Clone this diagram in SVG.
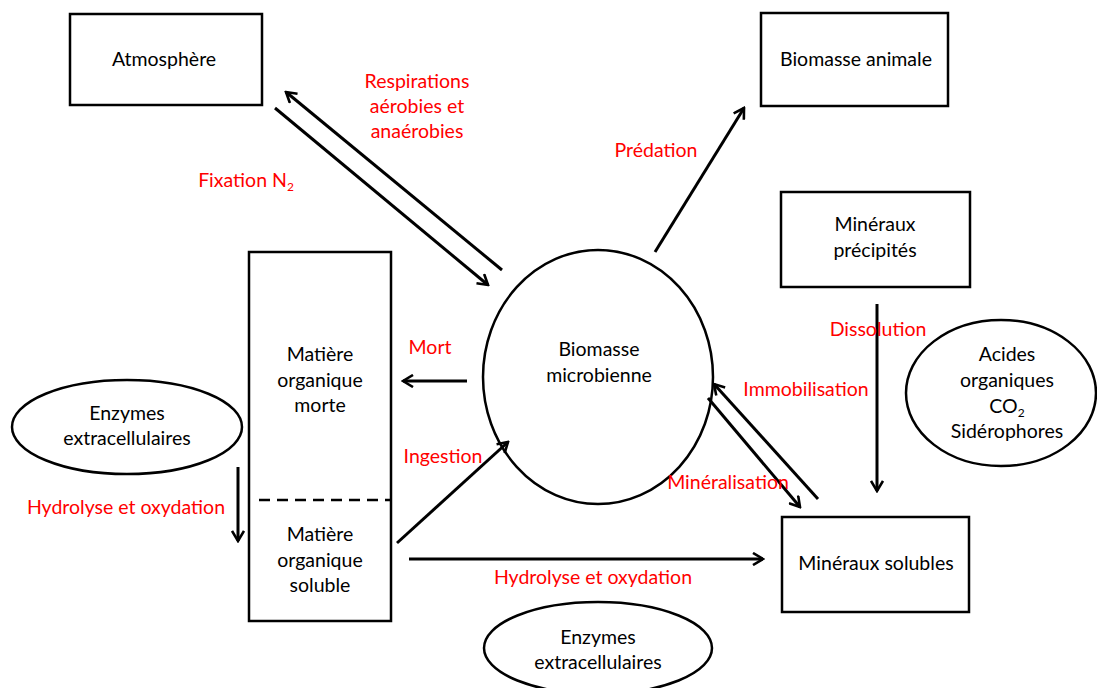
<svg xmlns="http://www.w3.org/2000/svg" width="1097" height="688" viewBox="0 0 1097 688">
<defs>
<style>
.box{fill:#fff;stroke:#000;stroke-width:2.5}
.t{font-family:Lato,"Liberation Sans",sans-serif;font-size:19.5px;fill:#000;text-anchor:middle}
.r{font-family:Lato,"Liberation Sans",sans-serif;font-size:19.5px;fill:#ff0000;text-anchor:middle}
.c{fill:none;stroke:#000;stroke-width:3}
.sub{font-size:12px}
</style>
<marker id="ah" viewBox="0 0 14 14" refX="12" refY="7" markerWidth="14" markerHeight="14" markerUnits="userSpaceOnUse" orient="auto">
<path d="M2,1 L12,7 L2,13" fill="none" stroke="#000" stroke-width="2.6"/>
</marker>
</defs>
<rect width="1097" height="688" fill="#fff"/>

<g id="atmosphere">
<rect class="box" x="70" y="14" width="192" height="91"/>
<text class="t" x="164" y="66">Atmosphère</text>
</g>
<g id="biomasse-animale">
<rect class="box" x="761" y="13" width="187" height="93"/>
<text class="t" x="856" y="66">Biomasse animale</text>
</g>
<g id="mineraux-precipites">
<rect class="box" x="781" y="192" width="189" height="95"/>
<text class="t" x="875" y="231">Minéraux</text>
<text class="t" x="875" y="257">précipités</text>
</g>
<g id="matiere-organique">
<rect class="box" x="249" y="252" width="142" height="369"/>
<line x1="259" y1="500" x2="391" y2="500" stroke="#000" stroke-width="2.5" stroke-dasharray="11,7"/>
<text class="t" x="320" y="361">Matière</text>
<text class="t" x="320" y="387">organique</text>
<text class="t" x="320" y="412">morte</text>
<text class="t" x="320" y="541">Matière</text>
<text class="t" x="320" y="567">organique</text>
<text class="t" x="320" y="592">soluble</text>
</g>
<g id="biomasse-microbienne">
<ellipse class="box" cx="598" cy="377" rx="115" ry="127"/>
<text class="t" x="599" y="356">Biomasse</text>
<text class="t" x="599" y="382">microbienne</text>
</g>
<g id="enzymes-gauche">
<ellipse class="box" cx="127" cy="427" rx="115" ry="47"/>
<text class="t" x="127" y="420">Enzymes</text>
<text class="t" x="127" y="445">extracellulaires</text>
</g>
<g id="acides">
<ellipse class="box" cx="1001" cy="393" rx="95" ry="73"/>
<text class="t" x="1007" y="361">Acides</text>
<text class="t" x="1007" y="387">organiques</text>
<text class="t" x="1007" y="413">CO<tspan class="sub" dy="4">2</tspan></text>
<text class="t" x="1007" y="438">Sidérophores</text>
</g>
<g id="mineraux-solubles">
<rect class="box" x="782" y="517" width="187" height="95"/>
<text class="t" x="876" y="570">Minéraux solubles</text>
</g>
<g id="enzymes-bas">
<ellipse class="box" cx="598" cy="648" rx="114" ry="46"/>
<text class="t" x="598" y="644">Enzymes</text>
<text class="t" x="598" y="669">extracellulaires</text>
</g>

<g id="connectors">
<line class="c" x1="502" y1="270" x2="286" y2="92" marker-end="url(#ah)"/>
<line class="c" x1="275" y1="108" x2="488" y2="285" marker-end="url(#ah)"/>
<line class="c" x1="655" y1="252" x2="744" y2="108" marker-end="url(#ah)"/>
<line class="c" x1="467" y1="381" x2="403" y2="381" marker-end="url(#ah)"/>
<line class="c" x1="397" y1="543" x2="508" y2="442" marker-end="url(#ah)"/>
<line class="c" x1="818" y1="499" x2="714" y2="384" marker-end="url(#ah)"/>
<line class="c" x1="708" y1="398" x2="800" y2="507" marker-end="url(#ah)"/>
<line class="c" x1="238" y1="467" x2="238" y2="541" marker-end="url(#ah)"/>
<line class="c" x1="409" y1="559" x2="763" y2="559" marker-end="url(#ah)"/>
<line class="c" x1="877" y1="304" x2="877" y2="491" marker-end="url(#ah)"/>
</g>

<g id="labels">
<text class="r" x="417" y="88">Respirations</text>
<text class="r" x="417" y="113">aérobies et</text>
<text class="r" x="417" y="138">anaérobies</text>
<text class="r" x="246" y="187">Fixation N<tspan class="sub" dy="4">2</tspan></text>
<text class="r" x="656" y="157">Prédation</text>
<text class="r" x="430" y="354">Mort</text>
<text class="r" x="443" y="463">Ingestion</text>
<text class="r" x="806" y="396">Immobilisation</text>
<text class="r" x="728" y="489">Minéralisation</text>
<text class="r" x="878" y="336">Dissolution</text>
<text class="r" x="126" y="514">Hydrolyse et oxydation</text>
<text class="r" x="593" y="584">Hydrolyse et oxydation</text>
</g>
</svg>
